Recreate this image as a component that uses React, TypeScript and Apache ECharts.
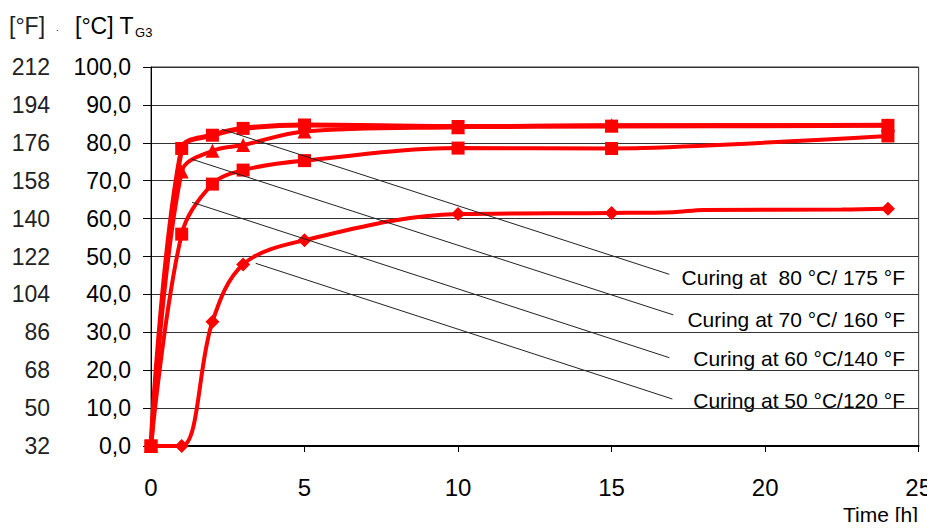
import React, { useEffect, useRef } from "react";
import * as echarts from "echarts";

// Time [h] and T_G3 [°C] readings
const series80: number[][] = [[0, 0], [1, 78.5], [2, 82.0], [3, 83.8], [5, 84.7], [10, 84.3], [15, 84.4], [24, 84.6]];
const series70: number[][] = [[0, 0], [1, 72.4], [2, 77.9], [3, 79.4], [5, 83.0], [10, 84.1], [15, 84.6], [24, 84.6]];
const series60: number[][] = [[0, 0], [1, 55.9], [2, 69.1], [3, 72.8], [5, 75.3], [10, 78.6], [15, 78.5], [16, 78.6], [24, 81.8]];
const series50: number[][] = [[0, 0], [1, 0], [2, 32.8], [3, 47.9], [5, 54.3], [10, 61.2], [15, 61.5], [17, 61.7], [18, 62.3], [22.5, 62.4], [24, 62.6]];
// which time points carry a marker
const markers50 = [0, 1, 2, 3, 5, 10, 15, 24];
const markers60 = [0, 1, 2, 3, 5, 10, 15, 24];

const celsiusTicks = { min: 0, max: 100, interval: 10 };
const fahrenheitTicks = { min: 32, max: 212, interval: 18 };
const xTicks = { min: 0, max: 25, interval: 5 };

const curingLabels = [
  "Curing at  80 °C/ 175 °F",
  "Curing at 70 °C/ 160 °F",
  "Curing at 60 °C/140 °F",
  "Curing at 50 °C/120 °F",
];
// callout lines: [start time, start temp, end time, end temp]
const calloutLines: number[][] = [
  [2.3, 83.6, 16.88, 45.3],
  [1.32, 75.7, 17.01, 34.6],
  [1.34, 64.3, 16.88, 23.3],
  [3.41, 48.2, 16.98, 12.4],
];

const RED = "#ff0000";
const FONT = "'Liberation Sans', Arial, sans-serif";

function withMarkers(data: number[][], marked: number[]) {
  return data.map((d) =>
    marked.includes(d[0]) ? { value: d } : { value: d, symbol: "none" }
  );
}

export default function App() {
  const ref = useRef<HTMLDivElement>(null);
  useEffect(() => {
    if (!ref.current) return;
    const chart = echarts.init(ref.current, null, { renderer: "svg" });
    const lineBase = {
      type: "line" as const,
      smooth: 0.35,
      itemStyle: { color: RED },
      emphasis: { disabled: true },
      z: 3,
    };
    const labelRight = 905;
    const labelY = [279, 321, 360, 402];
    chart.setOption({
      animation: false,
      grid: {
        left: 151,
        top: 67,
        width: 770,
        height: 379,
        show: true,
        borderColor: "#333",
        borderWidth: 1,
      },
      xAxis: {
        type: "value",
        ...xTicks,
        axisLine: { show: true, lineStyle: { color: "#000", width: 2 } },
        axisTick: { show: true, length: 6, lineStyle: { color: "#000", width: 1 } },
        axisLabel: { margin: 29, fontSize: 24, color: "#000", fontFamily: FONT },
        splitLine: { show: false },
      },
      yAxis: [
        {
          type: "value",
          ...celsiusTicks,
          position: "left",
          axisLine: { show: true, lineStyle: { color: "#000", width: 1 } },
          axisTick: { show: true, length: 8, lineStyle: { color: "#000" } },
          axisLabel: {
            margin: 20,
            fontSize: 23,
            color: "#000",
            fontFamily: FONT,
            formatter: (v: number) => v.toFixed(1).replace(".", ","),
          },
          splitLine: { show: true, lineStyle: { color: "#333", width: 1 } },
        },
        {
          type: "value",
          ...fahrenheitTicks,
          position: "left",
          offset: 93,
          axisLine: { show: false },
          axisTick: { show: false },
          axisLabel: { margin: 8, fontSize: 23, color: "#222", fontFamily: FONT },
          splitLine: { show: false },
        },
      ],
      series: [
        {
          ...lineBase,
          name: "50",
          data: withMarkers(series50, markers50),
          symbol: "diamond",
          symbolSize: 14,
          lineStyle: { color: RED, width: 4 },
          markLine: {
            silent: true,
            symbol: ["none", "none"],
            label: { show: false },
            lineStyle: { color: "#222", width: 1, type: "solid" },
            data: calloutLines.map((c) => [
              { coord: [c[0], c[1]] },
              { coord: [c[2], c[3]] },
            ]),
            z: 5,
          },
        },
        {
          ...lineBase,
          name: "60",
          data: withMarkers(series60, markers60),
          symbol: "rect",
          symbolSize: 13,
          lineStyle: { color: RED, width: 4 },
        },
        {
          ...lineBase,
          name: "70",
          data: series70,
          symbol: "triangle",
          symbolSize: 14,
          lineStyle: { color: RED, width: 4 },
        },
        {
          ...lineBase,
          name: "80",
          data: series80,
          symbol: "rect",
          symbolSize: 13,
          lineStyle: { color: RED, width: 5 },
        },
      ],
      graphic: [
        {
          type: "text",
          left: 9,
          top: 14,
          style: { text: "[°F]", fontSize: 23, fill: "#222", fontFamily: FONT },
        },
        {
          type: "text",
          left: 56,
          top: 22,
          style: { text: ".", fontSize: 10, fill: "#222", fontFamily: FONT },
        },
        {
          type: "text",
          left: 75,
          top: 14,
          style: {
            text: "[°C] T{sub|G3}",
            fontSize: 23,
            fill: "#000",
            fontFamily: FONT,
            rich: {
              sub: { fontSize: 13, fontFamily: FONT, fill: "#000", padding: [14, 0, 0, 1] },
            },
          },
        },
        {
          type: "text",
          right: 935 - 918,
          top: 504,
          style: { text: "Time [h]", fontSize: 21, fill: "#000", fontFamily: FONT },
        },
        ...curingLabels.map((t, i) => ({
          type: "text",
          right: 935 - labelRight,
          top: labelY[i] - 12,
          style: { text: t, fontSize: 21, fill: "#000", fontFamily: FONT },
        })),
      ],
    });
    return () => chart.dispose();
  }, []);
  return <div ref={ref} style={{ width: 935, height: 530, margin: -8 }} />;
}
